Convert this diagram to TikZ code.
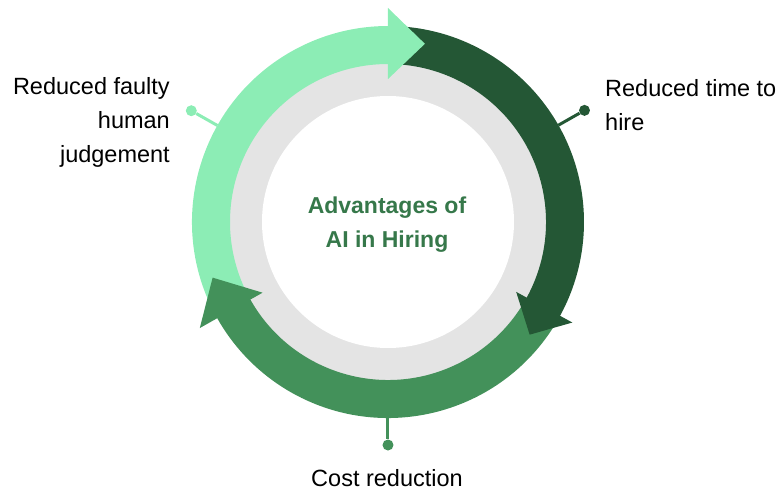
\documentclass[tikz,border=0pt]{standalone}
\usepackage{fontspec}
\setmainfont{Liberation Sans}

\definecolor{verdeclaro}{HTML}{8CEDB5}
\definecolor{verdeoscuro}{HTML}{245735}
\definecolor{verdemedio}{HTML}{43915A}
\definecolor{gris}{HTML}{E4E4E4}
\definecolor{verdetitulo}{HTML}{36784A}

\begin{document}
\begin{tikzpicture}[
    x=1pt, y=1pt,
    % Estilo para los textos de cada ventaja
    texto/.style={inner sep=0pt, text=black, font=\fontsize{23.5pt}{34pt}\selectfont},
    % Estilo para el titulo central
    titulo/.style={inner sep=0pt, align=center, text=verdetitulo, font=\bfseries\fontsize{23pt}{34pt}\selectfont},
    % Estilo para los puntos de las etiquetas
    punto/.style={circle, inner sep=0pt, minimum size=11pt},
    % Estilo para las lineas de las etiquetas
    conector/.style={line width=3pt}
]
    \useasboundingbox (-388,-268) rectangle (394,222);

    % ==========================================
    % FONDO: ANILLO GRIS
    % ==========================================
    \fill[gris] (0,0) circle (162pt);
    \fill[white] (0,0) circle (126pt);

    % ==========================================
    % BANDAS DE LAS FLECHAS
    % ==========================================
    % (ambos extremos de cada banda quedan bajo una punta)
    \fill[verdeclaro] (208.9:196) arc[start angle=208.9, end angle=89.5, radius=196pt]
        -- (89.5:158) arc[start angle=89.5, end angle=208.9, radius=158pt] -- cycle;
    \fill[verdeoscuro] (89.5:196) arc[start angle=89.5, end angle=-29.1, radius=196pt]
        -- (-29.1:158) arc[start angle=-29.1, end angle=89.5, radius=158pt] -- cycle;
    \fill[verdemedio] (-29.1:196) arc[start angle=-29.1, end angle=-151.1, radius=196pt]
        -- (-151.1:158) arc[start angle=-151.1, end angle=-29.1, radius=158pt] -- cycle;

    % Puntas de las flechas (encima de la banda siguiente)
    \fill[verdeclaro] (90:143) -- (90:214) -- (78.3:182) -- cycle;
    \fill[verdeoscuro] (-28.6:146) -- (-28.6:210) -- (-38.5:181) -- cycle;
    \fill[verdemedio] (-150.6:144) -- (-150.6:216) -- (-162.4:184) -- cycle;

    % ==========================================
    % ETIQUETAS
    % ==========================================
    \coordinate (b_izq) at (150.5:196);
    \coordinate (b_der) at (29.6:196);
    \coordinate (b_inf) at (-90:196);

    \node[punto, fill=verdeclaro] (p_izq) at (150.5:226) {};
    \node[punto, fill=verdeoscuro] (p_der) at (29.6:226) {};
    \node[punto, fill=verdemedio] (p_inf) at (-90:223) {};

    \draw[conector, verdeclaro] (b_izq) -- (p_izq);
    \draw[conector, verdeoscuro] (b_der) -- (p_der);
    \draw[conector, verdemedio] (b_inf) -- (p_inf);

    \node[texto, anchor=east, align=right] (t_izq) at (-218,100) {Reduced faulty\\human\\judgement};
    \node[texto, anchor=west, align=left] (t_der) at (217,117) {Reduced time to\\hire};
    \node[texto] (t_inf) at (-1,-256) {Cost reduction};

    % Titulo central
    \node[titulo] (centro) at (-1,-3) {Advantages of\\AI in Hiring};

\end{tikzpicture}
\end{document}
